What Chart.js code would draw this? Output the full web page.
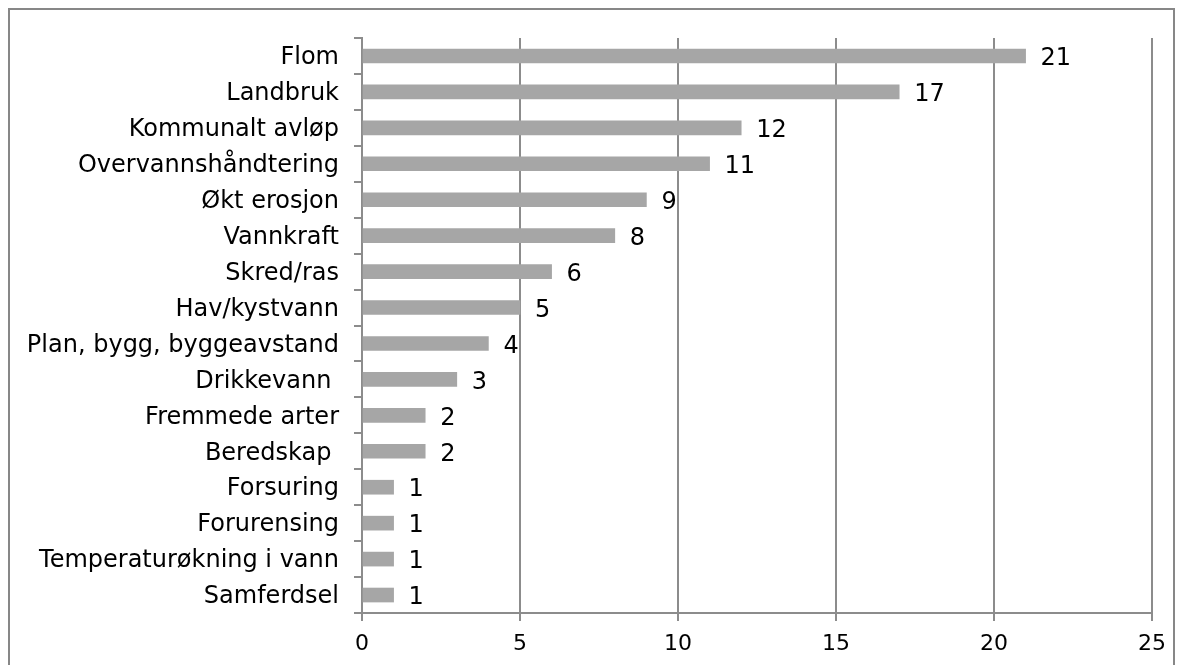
<!DOCTYPE html>
<html>
<head>
<meta charset="utf-8">
<script src="https://cdn.jsdelivr.net/npm/chart.js@4.4.0/dist/chart.umd.min.js"></script>
<style>
  html, body { margin: 0; padding: 0; background: #fff; overflow: hidden; }
  #frame { position: absolute; left: 8px; top: 8px; width: 1167px; height: 700px; border: 2px solid #878787; box-sizing: border-box; }
  #c { position: absolute; left: 0; top: 0; }
</style>
</head>
<body>
<div id="frame"></div>
<canvas id="c" width="1184" height="665"></canvas>
<script>
const categories = [
  "Flom", "Landbruk", "Kommunalt avløp", "Overvannshåndtering", "Økt erosjon",
  "Vannkraft", "Skred/ras", "Hav/kystvann", "Plan, bygg, byggeavstand", "Drikkevann ",
  "Fremmede arter", "Beredskap ", "Forsuring", "Forurensing", "Temperaturøkning i vann", "Samferdsel"
];
const values = [21, 17, 12, 11, 9, 8, 6, 5, 4, 3, 2, 2, 1, 1, 1, 1];
const xTicks = [0, 5, 10, 15, 20, 25];

const FONT = "'DejaVu Sans', Verdana, sans-serif";
const GRID = '#8c8c8c';

const dataLabels = {
  id: 'dataLabels',
  afterDatasetsDraw(chart) {
    const ctx = chart.ctx;
    const meta = chart.getDatasetMeta(0);
    ctx.save();
    ctx.font = '24px ' + FONT;
    ctx.fillStyle = '#000';
    ctx.textAlign = 'left';
    ctx.textBaseline = 'middle';
    meta.data.forEach((el, i) => {
      ctx.fillText(String(values[i]), el.x + 15, el.y + 3);
    });
    ctx.restore();
  }
};

new Chart(document.getElementById('c'), {
  type: 'bar',
  data: {
    labels: categories,
    datasets: [{
      data: values,
      backgroundColor: '#a6a6a6',
      borderWidth: 0,
      barThickness: 14
    }]
  },
  options: {
    indexAxis: 'y',
    responsive: false,
    animation: false,
    devicePixelRatio: 1,
    layout: { padding: { top: 38, right: 32, left: 0, bottom: 0 } },
    plugins: { legend: { display: false }, tooltip: { enabled: false } },
    scales: {
      x: {
        min: 0, max: 25,
        afterFit(scale) { scale.height = 52; },
        afterBuildTicks(scale) { scale.ticks = xTicks.map(v => ({ value: v })); },
        grid: { color: GRID, lineWidth: 2, drawTicks: true, tickLength: 8, tickColor: GRID },
        border: { color: GRID, width: 2 },
        ticks: { color: '#000', font: { family: FONT, size: 22 }, padding: 10 }
      },
      y: {
        afterFit(scale) { scale.width = 362; },
        grid: { drawOnChartArea: false, drawTicks: true, tickLength: 8, color: GRID, lineWidth: 2, offset: true },
        border: { color: GRID, width: 2 },
        ticks: { color: '#000', font: { family: FONT, size: 24 }, padding: 15, autoSkip: false, labelOffset: 2 }
      }
    }
  },
  plugins: [dataLabels]
});
</script>
</body>
</html>
